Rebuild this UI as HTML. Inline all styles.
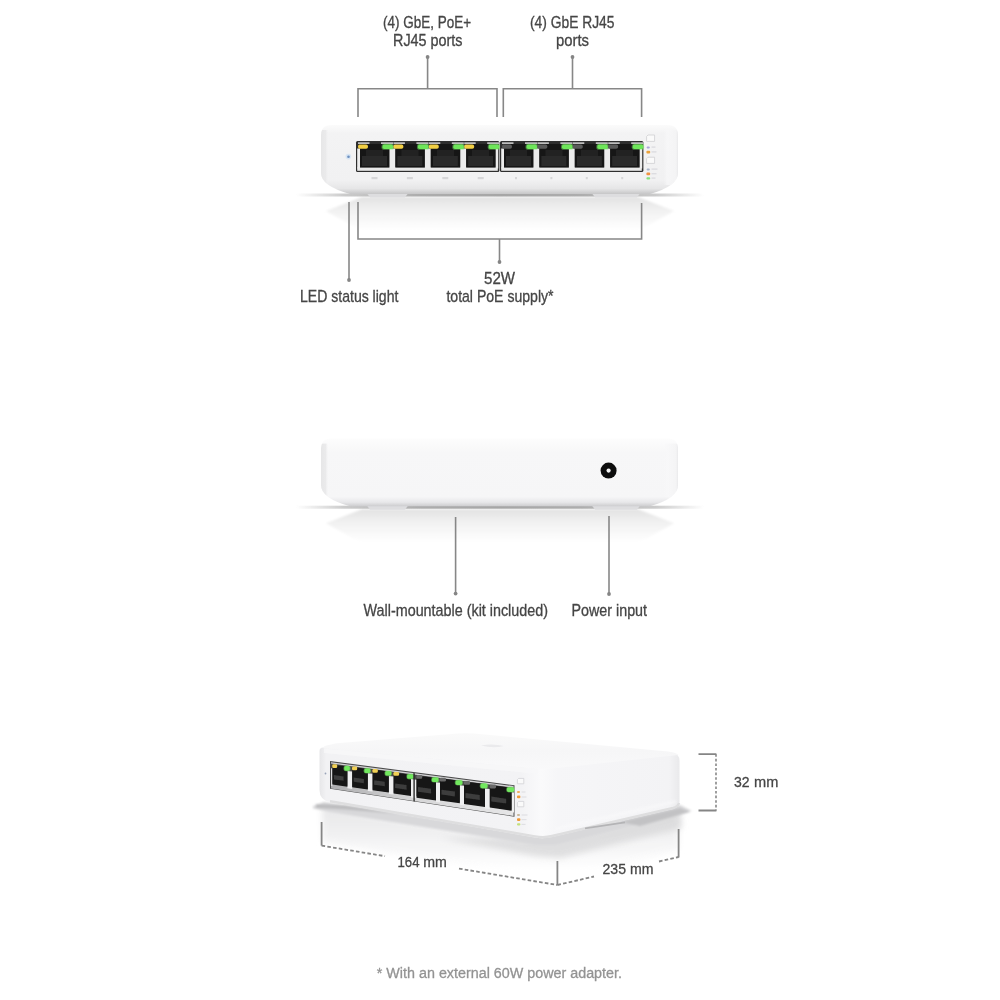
<!DOCTYPE html>
<html>
<head>
<meta charset="utf-8">
<title>Switch overview</title>
<style>
html,body{margin:0;padding:0;background:#fff;}
body{width:1000px;height:1000px;overflow:hidden;font-family:"Liberation Sans",sans-serif;}
svg{display:block;}
text{font-family:"Liberation Sans",sans-serif;font-size:15.9px;fill:#454545;stroke:#454545;stroke-width:0.3px;}
.ln{stroke:#878787;stroke-width:1.6;fill:none;}
.dl{stroke:#858585;stroke-width:1.8;fill:none;}
.dot{fill:#858585;}
</style>
</head>
<body>
<svg width="1000" height="1000" viewBox="0 0 1000 1000">
<defs>
  <linearGradient id="bodyF" x1="0" y1="0" x2="0" y2="1">
    <stop offset="0" stop-color="#fbfbfb"/>
    <stop offset="0.12" stop-color="#f3f3f4"/>
    <stop offset="0.8" stop-color="#f1f1f2"/>
    <stop offset="0.92" stop-color="#e6e6e7"/>
    <stop offset="1" stop-color="#c6c6c7"/>
  </linearGradient>
  <linearGradient id="bodyB" x1="0" y1="0" x2="0" y2="1">
    <stop offset="0" stop-color="#fdfdfd"/>
    <stop offset="0.2" stop-color="#f7f7f8"/>
    <stop offset="0.86" stop-color="#f6f6f7"/>
    <stop offset="0.94" stop-color="#e8e8ea"/>
    <stop offset="1" stop-color="#cdcdcf"/>
  </linearGradient>
  <linearGradient id="edgeL" x1="0" y1="0" x2="1" y2="0">
    <stop offset="0" stop-color="#e6e6e7" stop-opacity="1"/>
    <stop offset="0.7" stop-color="#e9e9ea" stop-opacity="0.9"/>
    <stop offset="1" stop-color="#eeeeef" stop-opacity="0"/>
  </linearGradient>
  <linearGradient id="edgeR" x1="1" y1="0" x2="0" y2="0">
    <stop offset="0" stop-color="#e4e4e6" stop-opacity="1"/>
    <stop offset="0.2" stop-color="#f4f4f5" stop-opacity="0.9"/>
    <stop offset="0.8" stop-color="#f8f8f9" stop-opacity="0.7"/>
    <stop offset="1" stop-color="#f8f8f9" stop-opacity="0"/>
  </linearGradient>
  <linearGradient id="streak" x1="0" y1="0" x2="1" y2="0">
    <stop offset="0" stop-color="#bdbdbd" stop-opacity="0"/>
    <stop offset="0.12" stop-color="#bdbdbd" stop-opacity="0.8"/>
    <stop offset="0.3" stop-color="#adadad" stop-opacity="1"/>
    <stop offset="0.5" stop-color="#a6a6a6" stop-opacity="1"/>
    <stop offset="0.7" stop-color="#adadad" stop-opacity="1"/>
    <stop offset="0.88" stop-color="#bdbdbd" stop-opacity="0.8"/>
    <stop offset="1" stop-color="#bdbdbd" stop-opacity="0"/>
  </linearGradient>
  <linearGradient id="refl" x1="0" y1="0" x2="0" y2="1">
    <stop offset="0" stop-color="#e2e2e2"/>
    <stop offset="0.4" stop-color="#f1f1f1"/>
    <stop offset="1" stop-color="#ffffff"/>
  </linearGradient>
  <filter id="tb" x="-5%" y="-30%" width="110%" height="160%"><feGaussianBlur stdDeviation="0.3"/></filter>
  <filter id="b1" x="-5%" y="-20%" width="110%" height="140%"><feGaussianBlur stdDeviation="0.6"/></filter>
  <filter id="b05" x="-5%" y="-20%" width="110%" height="140%"><feGaussianBlur stdDeviation="0.35"/></filter>
  <filter id="b2" x="-10%" y="-50%" width="120%" height="200%"><feGaussianBlur stdDeviation="1.2"/></filter>
  <filter id="b3" x="-10%" y="-50%" width="120%" height="200%"><feGaussianBlur stdDeviation="3"/></filter>
</defs>
<rect width="1000" height="1000" fill="#fff"/>
<!-- SECTION 1: front view -->
<path d="M362 197 L638 197 L674 211 L640 230 L360 230 L326 211 Z" fill="url(#refl)" filter="url(#b2)"/>
<rect x="296" y="193.5" width="408" height="3" fill="url(#streak)" filter="url(#b1)"/>
<path d="M366 192 L409 192 L405 197.6 L370 197.6 Z" fill="#dddddf" filter="url(#b05)"/>
<path d="M591 192 L641 192 L637 197.6 L595 197.6 Z" fill="#dddddf" filter="url(#b05)"/>
<clipPath id="cpF"><path d="M331 125 H668 Q678 125 678 136 V173 Q678 186 650 194 H350 Q321 186 321 173 V136 Q321 125 331 125 Z"/></clipPath>
<g filter="url(#b1)"><path d="M331 125 H668 Q678 125 678 136 V173 Q678 186 650 194 H350 Q321 186 321 173 V136 Q321 125 331 125 Z" fill="url(#bodyF)"/>
<g clip-path="url(#cpF)"><rect x="320" y="130" width="8" height="55" fill="url(#edgeL)"/>
<rect x="664" y="130" width="15" height="55" fill="url(#edgeR)"/></g></g>
<g filter="url(#b05)">
<rect x="356" y="141" width="143.4" height="31" rx="1.5" fill="#2e2e2e"/>
<rect x="357.2" y="167.4" width="140.6" height="3.4" fill="#e9e9e9"/>
<rect x="357.2" y="148.5" width="2.8" height="20" fill="#ececec"/>
<rect x="358.0" y="142.4" width="11.5" height="1.4" fill="#e2e2e2"/>
<rect x="381.0" y="142.4" width="12" height="1.4" fill="#e2e2e2"/>
<rect x="360.0" y="144" width="29.5" height="23.4" fill="#151515"/>
<rect x="362.0" y="156" width="25" height="10" fill="#2b2b2b"/>
<rect x="366.0" y="150" width="17" height="6" fill="#232323"/>
<rect x="389.5" y="148.5" width="5.9" height="20" fill="#ececec"/>
<rect x="358.0" y="144.6" width="10" height="4.2" rx="1.8" fill="#f2cf45"/>
<rect x="381.5" y="143.8" width="12.5" height="6" rx="2.6" fill="#7cf06a" opacity="0.45"/>
<rect x="382.5" y="144.6" width="10.5" height="4.4" rx="1.8" fill="#6ee65a"/>
<rect x="393.4" y="142.4" width="11.5" height="1.4" fill="#e2e2e2"/>
<rect x="416.4" y="142.4" width="12" height="1.4" fill="#e2e2e2"/>
<rect x="395.4" y="144" width="29.5" height="23.4" fill="#151515"/>
<rect x="397.4" y="156" width="25" height="10" fill="#2b2b2b"/>
<rect x="401.4" y="150" width="17" height="6" fill="#232323"/>
<rect x="424.9" y="148.5" width="5.9" height="20" fill="#ececec"/>
<rect x="393.4" y="144.6" width="10" height="4.2" rx="1.8" fill="#f2cf45"/>
<rect x="416.9" y="143.8" width="12.5" height="6" rx="2.6" fill="#7cf06a" opacity="0.45"/>
<rect x="417.9" y="144.6" width="10.5" height="4.4" rx="1.8" fill="#6ee65a"/>
<rect x="428.8" y="142.4" width="11.5" height="1.4" fill="#e2e2e2"/>
<rect x="451.8" y="142.4" width="12" height="1.4" fill="#e2e2e2"/>
<rect x="430.8" y="144" width="29.5" height="23.4" fill="#151515"/>
<rect x="432.8" y="156" width="25" height="10" fill="#2b2b2b"/>
<rect x="436.8" y="150" width="17" height="6" fill="#232323"/>
<rect x="460.3" y="148.5" width="5.9" height="20" fill="#ececec"/>
<rect x="428.8" y="144.6" width="10" height="4.2" rx="1.8" fill="#f2cf45"/>
<rect x="452.3" y="143.8" width="12.5" height="6" rx="2.6" fill="#7cf06a" opacity="0.45"/>
<rect x="453.3" y="144.6" width="10.5" height="4.4" rx="1.8" fill="#6ee65a"/>
<rect x="464.2" y="142.4" width="11.5" height="1.4" fill="#e2e2e2"/>
<rect x="487.2" y="142.4" width="12" height="1.4" fill="#e2e2e2"/>
<rect x="466.2" y="144" width="29.5" height="23.4" fill="#151515"/>
<rect x="468.2" y="156" width="25" height="10" fill="#2b2b2b"/>
<rect x="472.2" y="150" width="17" height="6" fill="#232323"/>
<rect x="495.7" y="148.5" width="2.5" height="20" fill="#ececec"/>
<rect x="464.2" y="144.6" width="10" height="4.2" rx="1.8" fill="#f2cf45"/>
<rect x="487.7" y="143.8" width="12.5" height="6" rx="2.6" fill="#7cf06a" opacity="0.45"/>
<rect x="488.7" y="144.6" width="10.5" height="4.4" rx="1.8" fill="#6ee65a"/>
<rect x="500" y="141" width="143.4" height="31" rx="1.5" fill="#2e2e2e"/>
<rect x="501.2" y="167.4" width="140.6" height="3.4" fill="#e9e9e9"/>
<rect x="501.2" y="148.5" width="2.8" height="20" fill="#ececec"/>
<rect x="502.0" y="142.4" width="11.5" height="1.4" fill="#e2e2e2"/>
<rect x="525.0" y="142.4" width="12" height="1.4" fill="#e2e2e2"/>
<rect x="504.0" y="144" width="29.5" height="23.4" fill="#151515"/>
<rect x="506.0" y="156" width="25" height="10" fill="#2b2b2b"/>
<rect x="510.0" y="150" width="17" height="6" fill="#232323"/>
<rect x="533.5" y="148.5" width="5.9" height="20" fill="#ececec"/>
<rect x="502.0" y="144.6" width="10" height="4.2" rx="1.8" fill="#5a5a5a"/>
<rect x="525.5" y="143.8" width="12.5" height="6" rx="2.6" fill="#7cf06a" opacity="0.45"/>
<rect x="526.5" y="144.6" width="10.5" height="4.4" rx="1.8" fill="#6ee65a"/>
<rect x="537.4" y="142.4" width="11.5" height="1.4" fill="#e2e2e2"/>
<rect x="560.4" y="142.4" width="12" height="1.4" fill="#e2e2e2"/>
<rect x="539.4" y="144" width="29.5" height="23.4" fill="#151515"/>
<rect x="541.4" y="156" width="25" height="10" fill="#2b2b2b"/>
<rect x="545.4" y="150" width="17" height="6" fill="#232323"/>
<rect x="568.9" y="148.5" width="5.9" height="20" fill="#ececec"/>
<rect x="537.4" y="144.6" width="10" height="4.2" rx="1.8" fill="#5a5a5a"/>
<rect x="560.9" y="143.8" width="12.5" height="6" rx="2.6" fill="#7cf06a" opacity="0.45"/>
<rect x="561.9" y="144.6" width="10.5" height="4.4" rx="1.8" fill="#6ee65a"/>
<rect x="572.8" y="142.4" width="11.5" height="1.4" fill="#e2e2e2"/>
<rect x="595.8" y="142.4" width="12" height="1.4" fill="#e2e2e2"/>
<rect x="574.8" y="144" width="29.5" height="23.4" fill="#151515"/>
<rect x="576.8" y="156" width="25" height="10" fill="#2b2b2b"/>
<rect x="580.8" y="150" width="17" height="6" fill="#232323"/>
<rect x="604.3" y="148.5" width="5.9" height="20" fill="#ececec"/>
<rect x="572.8" y="144.6" width="10" height="4.2" rx="1.8" fill="#5a5a5a"/>
<rect x="596.3" y="143.8" width="12.5" height="6" rx="2.6" fill="#7cf06a" opacity="0.45"/>
<rect x="597.3" y="144.6" width="10.5" height="4.4" rx="1.8" fill="#6ee65a"/>
<rect x="608.2" y="142.4" width="11.5" height="1.4" fill="#e2e2e2"/>
<rect x="631.2" y="142.4" width="12" height="1.4" fill="#e2e2e2"/>
<rect x="610.2" y="144" width="29.5" height="23.4" fill="#151515"/>
<rect x="612.2" y="156" width="25" height="10" fill="#2b2b2b"/>
<rect x="616.2" y="150" width="17" height="6" fill="#232323"/>
<rect x="639.7" y="148.5" width="2.5" height="20" fill="#ececec"/>
<rect x="608.2" y="144.6" width="10" height="4.2" rx="1.8" fill="#5a5a5a"/>
<rect x="631.7" y="143.8" width="12.5" height="6" rx="2.6" fill="#7cf06a" opacity="0.45"/>
<rect x="632.7" y="144.6" width="10.5" height="4.4" rx="1.8" fill="#6ee65a"/>
</g>
<circle cx="348.5" cy="156.7" r="1.3" fill="#5878a8"/><circle cx="348.4" cy="156.6" r="2.8" fill="#9cc6f5" opacity="0.3"/>
<rect x="371.5" y="177" width="6" height="2.2" fill="#d6d6d8"/>
<rect x="406.9" y="177" width="6" height="2.2" fill="#d6d6d8"/>
<rect x="442.3" y="177" width="6" height="2.2" fill="#d6d6d8"/>
<rect x="477.7" y="177" width="6" height="2.2" fill="#d6d6d8"/>
<rect x="515.0" y="177" width="2" height="2.2" fill="#d6d6d8"/>
<rect x="550.4" y="177" width="2" height="2.2" fill="#d6d6d8"/>
<rect x="585.8" y="177" width="2" height="2.2" fill="#d6d6d8"/>
<rect x="621.2" y="177" width="2" height="2.2" fill="#d6d6d8"/>
<g filter="url(#b05)">
<path d="M648 135 H654.6 V141.4 H646.6 V136.4 Z" fill="#fafafa" stroke="#cfcfd2" stroke-width="0.8"/>
<path d="M648 157.2 H654.6 V163.4 H646.6 V158.6 Z" fill="#fafafa" stroke="#cfcfd2" stroke-width="0.8"/>
<rect x="646.6" y="146.4" width="3.2" height="2.2" rx="1" fill="#a9a6d8"/>
<rect x="646.4" y="150.8" width="3.8" height="2.6" rx="1" fill="#eaa23a"/>
<rect x="646.6" y="168.4" width="3.2" height="2.2" rx="1" fill="#a8b4c8"/>
<rect x="646.4" y="172.6" width="3.8" height="2.6" rx="1" fill="#f09242"/>
<rect x="646.4" y="177.2" width="3.8" height="2.4" rx="1" fill="#86e27c"/>
<rect x="651.5" y="146.4" width="4" height="1.4" fill="#dcdce0"/><rect x="651.5" y="151.2" width="5" height="1.4" fill="#dcdce0"/>
<rect x="651.5" y="168.4" width="6" height="1.4" fill="#dcdce0"/><rect x="651.5" y="173" width="5" height="1.4" fill="#dcdce0"/><rect x="651.5" y="177.4" width="4" height="1.4" fill="#dcdce0"/>
</g>
<path class="ln" d="M358 117 V88.8 H497 V117 M427.6 88.8 V57"/><circle class="dot" cx="427.6" cy="57" r="1.9"/>
<path class="ln" d="M503.3 117 V88.8 H641.6 V117 M572.5 88.8 V57"/><circle class="dot" cx="572.5" cy="57" r="1.9"/>
<path class="ln" d="M358 202 V239 H641.6 V203 M499.5 239 V262"/><circle class="dot" cx="499.5" cy="262" r="1.9"/>
<path class="ln" d="M349 202 V280"/><circle class="dot" cx="349" cy="280" r="1.9"/>
<text filter="url(#tb)" x="383" y="27.8" textLength="88.0" lengthAdjust="spacingAndGlyphs">(4) GbE, PoE+</text>
<text filter="url(#tb)" x="393" y="45.8" textLength="69.5" lengthAdjust="spacingAndGlyphs">RJ45 ports</text>
<text filter="url(#tb)" x="530" y="27.8" textLength="84.5" lengthAdjust="spacingAndGlyphs">(4) GbE RJ45</text>
<text filter="url(#tb)" x="556" y="45.7" textLength="33.0" lengthAdjust="spacingAndGlyphs">ports</text>
<text filter="url(#tb)" x="300" y="301.5" textLength="98.4" lengthAdjust="spacingAndGlyphs">LED status light</text>
<text filter="url(#tb)" x="484" y="283.5" textLength="31.0" lengthAdjust="spacingAndGlyphs">52W</text>
<text filter="url(#tb)" x="446.4" y="301.5" textLength="107.2" lengthAdjust="spacingAndGlyphs">total PoE supply*</text>
<!-- SECTION 2: back view -->
<path d="M362 509.20000000000005 L638 509.20000000000005 L674 523.2 L640 542.2 L360 542.2 L326 523.2 Z" fill="url(#refl)" filter="url(#b2)"/>
<rect x="296" y="505.70000000000005" width="408" height="3" fill="url(#streak)" filter="url(#b1)"/>
<path d="M366 504.20000000000005 L409 504.20000000000005 L405 509.80000000000007 L370 509.80000000000007 Z" fill="#dddddf" filter="url(#b05)"/>
<path d="M591 504.20000000000005 L641 504.20000000000005 L637 509.80000000000007 L595 509.80000000000007 Z" fill="#dddddf" filter="url(#b05)"/>
<clipPath id="cpB"><path d="M331 438.6 H668 Q678 438.6 678 449.6 V485.20000000000005 Q678 498.20000000000005 650 506.20000000000005 H350 Q321 498.20000000000005 321 485.20000000000005 V449.6 Q321 438.6 331 438.6 Z"/></clipPath>
<g filter="url(#b1)"><path d="M331 438.6 H668 Q678 438.6 678 449.6 V485.20000000000005 Q678 498.20000000000005 650 506.20000000000005 H350 Q321 498.20000000000005 321 485.20000000000005 V449.6 Q321 438.6 331 438.6 Z" fill="url(#bodyB)"/>
<g clip-path="url(#cpB)"><rect x="320" y="443.6" width="8" height="53.599999999999994" fill="url(#edgeL)"/>
<rect x="664" y="443.6" width="15" height="53.599999999999994" fill="url(#edgeR)"/></g></g>
<g filter="url(#b05)"><circle cx="608.6" cy="470.6" r="8" fill="#111"/><circle cx="608.6" cy="470.6" r="2.1" fill="#f4f4f4"/></g>
<path d="M592 484.6 H603 M605 484.6 H611 M613 484.6 H620 M622 484.6 H627" stroke="#e2e2e4" stroke-width="2" filter="url(#b05)"/>
<path class="ln" d="M455.6 517 V593.6"/><circle class="dot" cx="455.6" cy="593.6" r="1.9"/>
<path class="ln" d="M609 516 V594"/><circle class="dot" cx="609" cy="594" r="1.9"/>
<text filter="url(#tb)" x="363.6" y="615.5" textLength="184.4" lengthAdjust="spacingAndGlyphs">Wall-mountable (kit included)</text>
<text filter="url(#tb)" x="571.6" y="615.5" textLength="75.4" lengthAdjust="spacingAndGlyphs">Power input</text>
<!-- SECTION 3: perspective -->
<defs>
  <linearGradient id="pFront" x1="0" y1="0" x2="0" y2="1">
    <stop offset="0" stop-color="#f7f7f8"/>
    <stop offset="0.25" stop-color="#f1f1f3"/>
    <stop offset="0.8" stop-color="#f3f3f5"/>
    <stop offset="1" stop-color="#e6e6e8"/>
  </linearGradient>
  <linearGradient id="pSide" x1="0" y1="0" x2="0" y2="1">
    <stop offset="0" stop-color="#f8f8f9"/>
    <stop offset="0.3" stop-color="#f3f3f5"/>
    <stop offset="0.7" stop-color="#eeeef0"/>
    <stop offset="0.85" stop-color="#e2e2e4"/>
    <stop offset="1" stop-color="#d2d2d4"/>
  </linearGradient>
  <linearGradient id="pTop" x1="0" y1="0" x2="0" y2="1">
    <stop offset="0" stop-color="#fafafa"/>
    <stop offset="0.5" stop-color="#f6f6f7"/>
    <stop offset="1" stop-color="#f9f9fa"/>
  </linearGradient>
  <linearGradient id="pShadow" x1="0" y1="0" x2="0" y2="1">
    <stop offset="0" stop-color="#c4c4c6"/>
    <stop offset="0.4" stop-color="#e0e0e1"/>
    <stop offset="1" stop-color="#ffffff" stop-opacity="0"/>
  </linearGradient>
</defs>
<defs>
  <linearGradient id="pBody" gradientUnits="userSpaceOnUse" x1="319" y1="0" x2="680" y2="0">
    <stop offset="0" stop-color="#e6e6e8"/>
    <stop offset="0.02" stop-color="#f2f2f4"/>
    <stop offset="0.56" stop-color="#f3f3f5"/>
    <stop offset="0.615" stop-color="#fafafb"/>
    <stop offset="0.66" stop-color="#f6f6f8"/>
    <stop offset="0.97" stop-color="#f3f3f5"/>
    <stop offset="1" stop-color="#e9e9eb"/>
  </linearGradient>
  <linearGradient id="pRefl" gradientUnits="userSpaceOnUse" x1="0" y1="805" x2="0" y2="870">
    <stop offset="0" stop-color="#e4e4e5"/>
    <stop offset="0.5" stop-color="#f1f1f2"/>
    <stop offset="1" stop-color="#ffffff"/>
  </linearGradient>
</defs>
<path d="M322 806 L540 842 L556 842 L679 812 L679 850 L557 880 L322 842 Z" fill="url(#pRefl)" filter="url(#b3)" opacity="0.9"/>
<path d="M540 838 L556 838 L680 808 L682 828 L560 858 L536 856 L440 838 Z" fill="#d9d9da" filter="url(#b3)" opacity="0.8"/>
<g filter="url(#b2)">
<path d="M313 806 L324 802 L540 835 L552 835 L680 805 L692 811 L556 845 L536 845 L330 812 L313 808.5 Z" fill="#d8d8da"/>
<path d="M316 804 L345 805 L400 814 L345 809.5 L316 808 Z" fill="#bdbdbf"/>
<path d="M620 822 L680 808 L690 812 L640 826 Z" fill="#c2c2c4"/>
</g>
<g filter="url(#b1)">
<path d="M323.5 747.4 L536 768 L548 768.5 L672 753.5 Q679.5 753 679.5 761 L679.5 802 Q679.5 807 673 809 L552 837 Q544 839 535 837.5 L330 802 Q319.5 800 319.5 790 L319.5 751 Q319.5 747.2 323.5 747.4 Z" fill="url(#pBody)"/>
<path d="M324 746.5 Q330 744 340 743 L458 733.5 Q466 732.8 474 733.6 L668 751.5 Q677 752.6 678.5 755 L548 769 Q543 769.6 538 769 L324 748.5 Z" fill="url(#pTop)"/>
<path d="M324 748.5 L538 769 L538 774 L324 753 Z" fill="#f8f8f9" opacity="0.8"/>
<path d="M330 801.2 L535 836.4 Q544 838 552 836 L673 808 Q678 806.6 679 803" fill="none" stroke="#dededf" stroke-width="2.4" filter="url(#b1)"/>
<path d="M556 829 L676 801.5" fill="none" stroke="#fbfbfc" stroke-width="3" filter="url(#b2)" opacity="0.55"/>
<path d="M585 827.6 L625 821.6 L625 823.2 L585 829.2 Z" fill="#b4b4b6"/>
</g>
<g filter="url(#b05)">
<path d="M330 761.1 L514.5 785.3 L514.5 816.7 L330 788.8 Z" fill="#4a4a4a"/>
<defs><linearGradient id="pBar" gradientUnits="userSpaceOnUse" x1="330" y1="0" x2="514" y2="0"><stop offset="0" stop-color="#adadaf"/><stop offset="0.45" stop-color="#d6d6d7"/><stop offset="1" stop-color="#e6e6e7"/></linearGradient></defs>
<path d="M331 783.6 L513.5 810.1 L513.5 816.0 L331 788.6 Z" fill="url(#pBar)"/>
<path d="M331 762.2 L513.5 786.1 L513.5 787.7 L331 763.4 Z" fill="#d4d4d6"/>
<path d="M347.4 771.0 L352.2 771.6 L352.2 788.9 L347.4 788.2 Z" fill="#efeff0"/>
<path d="M331 768.2 L332.4 768.2 L332.4 786.1 L331 785.9 Z" fill="#dcdcde"/>
<path d="M332.4 764.7 L347.4 766.6 L347.4 786.7 L332.4 784.6 Z" fill="#161616"/>
<path d="M333.9 775.1 L343.6 776.6 L343.6 780.8 L333.9 779.4 Z" fill="#3c3c3c"/>
<rect x="332.2" y="764.2" width="5.0" height="3.8" rx="1.3" fill="#f0cf55"/>
<rect x="343.4" y="765.5" width="7.2" height="5.8" rx="2.4" fill="#7cf06a" opacity="0.45"/>
<rect x="344.2" y="766.1" width="5.6" height="4.6" rx="1.6" fill="#72e85e"/>
<path d="M367.8 773.3 L372.6 773.8 L372.6 791.6 L367.8 790.9 Z" fill="#efeff0"/>
<path d="M352.2 766.9 L367.8 768.9 L367.8 789.4 L352.2 787.2 Z" fill="#161616"/>
<path d="M353.7 777.5 L363.9 779.0 L363.9 783.3 L353.7 781.8 Z" fill="#3c3c3c"/>
<rect x="352.0" y="766.4" width="5.2" height="3.8" rx="1.3" fill="#f0cf55"/>
<rect x="363.6" y="767.8" width="7.4" height="5.8" rx="2.4" fill="#7cf06a" opacity="0.45"/>
<rect x="364.4" y="768.4" width="5.8" height="4.6" rx="1.6" fill="#72e85e"/>
<path d="M388.8 775.9 L393.6 776.5 L393.6 794.6 L388.8 794.0 Z" fill="#efeff0"/>
<path d="M372.6 769.5 L388.8 771.5 L388.8 792.5 L372.6 790.2 Z" fill="#161616"/>
<path d="M374.1 780.2 L384.8 781.8 L384.8 786.3 L374.1 784.7 Z" fill="#3c3c3c"/>
<rect x="372.4" y="769.0" width="5.4" height="3.8" rx="1.3" fill="#f0cf55"/>
<rect x="384.4" y="770.4" width="7.6" height="5.8" rx="2.4" fill="#7cf06a" opacity="0.45"/>
<rect x="385.2" y="771.0" width="6.0" height="4.6" rx="1.6" fill="#72e85e"/>
<path d="M411.0 779.1 L416.5 779.7 L416.5 798.3 L411.0 797.5 Z" fill="#efeff0"/>
<path d="M393.6 772.5 L411.0 774.7 L411.0 796.0 L393.6 793.6 Z" fill="#161616"/>
<path d="M395.1 783.4 L406.6 785.1 L406.6 789.7 L395.1 788.0 Z" fill="#3c3c3c"/>
<rect x="393.4" y="772.0" width="5.7" height="3.8" rx="1.3" fill="#f0cf55"/>
<rect x="406.3" y="773.6" width="7.9" height="5.8" rx="2.4" fill="#7cf06a" opacity="0.45"/>
<rect x="407.1" y="774.2" width="6.3" height="4.6" rx="1.6" fill="#72e85e"/>
<path d="M436.0 782.3 L440.0 782.8 L440.0 802.5 L436.0 801.9 Z" fill="#efeff0"/>
<path d="M416.5 775.5 L436.0 777.9 L436.0 800.4 L416.5 797.7 Z" fill="#161616"/>
<path d="M418.0 786.9 L431.1 788.8 L431.1 793.6 L418.0 791.7 Z" fill="#3c3c3c"/>
<rect x="416.3" y="775.0" width="5.9" height="3.8" rx="1.3" fill="#6b6b6b"/>
<rect x="431.1" y="776.8" width="8.1" height="5.8" rx="2.4" fill="#7cf06a" opacity="0.45"/>
<rect x="431.9" y="777.4" width="6.5" height="4.6" rx="1.6" fill="#72e85e"/>
<path d="M459.8 785.2 L464.0 785.7 L464.0 805.4 L459.8 804.8 Z" fill="#efeff0"/>
<path d="M440.0 778.3 L459.8 780.8 L459.8 803.3 L440.0 800.5 Z" fill="#161616"/>
<path d="M441.5 789.7 L454.9 791.6 L454.9 796.4 L441.5 794.5 Z" fill="#3c3c3c"/>
<rect x="439.8" y="777.8" width="6.1" height="3.8" rx="1.3" fill="#6b6b6b"/>
<rect x="454.7" y="779.7" width="8.3" height="5.8" rx="2.4" fill="#7cf06a" opacity="0.45"/>
<rect x="455.5" y="780.3" width="6.7" height="4.6" rx="1.6" fill="#72e85e"/>
<path d="M485.0 788.5 L489.8 789.1 L489.8 809.1 L485.0 808.4 Z" fill="#efeff0"/>
<path d="M464.0 781.5 L485.0 784.1 L485.0 806.9 L464.0 804.0 Z" fill="#161616"/>
<path d="M465.5 793.0 L479.8 795.0 L479.8 800.0 L465.5 797.9 Z" fill="#3c3c3c"/>
<rect x="463.8" y="781.0" width="6.3" height="3.8" rx="1.3" fill="#6b6b6b"/>
<rect x="479.7" y="783.0" width="8.5" height="5.8" rx="2.4" fill="#7cf06a" opacity="0.45"/>
<rect x="480.5" y="783.6" width="6.9" height="4.6" rx="1.6" fill="#72e85e"/>
<path d="M511.6 792.2 L514 792.5 L514 812.5 L511.6 812.2 Z" fill="#efeff0"/>
<path d="M489.8 785.1 L511.6 787.8 L511.6 810.7 L489.8 807.6 Z" fill="#161616"/>
<path d="M491.3 796.6 L506.2 798.7 L506.2 803.6 L491.3 801.5 Z" fill="#3c3c3c"/>
<rect x="489.6" y="784.6" width="6.5" height="3.8" rx="1.3" fill="#6b6b6b"/>
<rect x="506.1" y="786.7" width="8.7" height="5.8" rx="2.4" fill="#7cf06a" opacity="0.45"/>
<rect x="506.9" y="787.3" width="7.1" height="4.6" rx="1.6" fill="#72e85e"/>
<path d="M413.4 773 L414.8 773.2 L414.8 801.5 L413.4 801.3 Z" fill="#2a2a2a"/>
</g>
<g filter="url(#b05)">
<circle cx="325.5" cy="773.5" r="0.9" fill="#9aa4b8"/>
<path d="M518.6 778.4 H523.8 V783.8 H517.4 V779.6 Z" fill="#fafafa" stroke="#d2d2d5" stroke-width="0.8"/>
<path d="M518.6 801.4 H523.8 V806.8 H517.4 V802.6 Z" fill="#fafafa" stroke="#d2d2d5" stroke-width="0.8"/>
<rect x="517" y="791" width="3" height="2" rx="0.9" fill="#f0b060"/>
<rect x="517" y="795.6" width="3.4" height="2.6" rx="1" fill="#f09a38"/>
<rect x="517" y="814" width="3" height="2" rx="0.9" fill="#c9b9a0"/>
<rect x="517" y="818.3" width="3.4" height="2.6" rx="1" fill="#f09a38"/>
<rect x="517" y="823.2" width="3.4" height="2.4" rx="1" fill="#c3e07a"/>
<rect x="521.5" y="791.4" width="4" height="1.2" fill="#e0e0e4"/><rect x="521.5" y="796.4" width="5" height="1.2" fill="#e0e0e4"/>
<rect x="521.5" y="814.4" width="6" height="1.2" fill="#e0e0e4"/><rect x="521.5" y="819" width="5" height="1.2" fill="#e0e0e4"/><rect x="521.5" y="823.8" width="4" height="1.2" fill="#e0e0e4"/>
<path d="M481 745.6 q11 -2.6 23 0.4 q-11 2.6 -23 -0.4 Z" fill="#eaeaec"/>
</g>
<path class="dl" d="M321.6 822 V845.6"/>
<path class="dl" stroke-dasharray="3.6 2.2" d="M321.6 845.6 L385 856.2 M459 868.6 L557.4 885"/>
<path class="dl" d="M557.4 861 V885"/>
<path class="dl" stroke-dasharray="3.6 2.2" d="M557.4 885 L594 876.5 M659 861.5 L678.6 857"/>
<path class="dl" d="M678.6 829 V857.5"/>
<path class="dl" d="M698.5 754.2 H716.4 M698.5 810.5 H716.4"/>
<path class="ln" stroke-width="1.6" stroke-dasharray="2.6 2" d="M716 754.2 V810.5"/>
<text filter="url(#tb)" x="397.5" y="866.9" textLength="22.0" lengthAdjust="spacingAndGlyphs" style="font-size:15.3px">164</text>
<text filter="url(#tb)" x="423.2" y="866.9" textLength="23.6" lengthAdjust="spacingAndGlyphs" style="font-size:15.3px">mm</text>
<text filter="url(#tb)" x="602.5" y="873.8" textLength="23.5" lengthAdjust="spacingAndGlyphs" style="font-size:15.3px">235</text>
<text filter="url(#tb)" x="630" y="873.8" textLength="23.5" lengthAdjust="spacingAndGlyphs" style="font-size:15.3px">mm</text>
<text filter="url(#tb)" x="734" y="787.4" textLength="15.6" lengthAdjust="spacingAndGlyphs" style="font-size:15.3px">32</text>
<text filter="url(#tb)" x="754" y="787.4" textLength="24.3" lengthAdjust="spacingAndGlyphs" style="font-size:15.3px">mm</text>
<text filter="url(#tb)" x="376.8" y="977.9" textLength="245.2" lengthAdjust="spacingAndGlyphs" style="font-size:14.9px;fill:#939393;stroke:#939393">* With an external 60W power adapter.</text>
</svg>
</body>
</html>
